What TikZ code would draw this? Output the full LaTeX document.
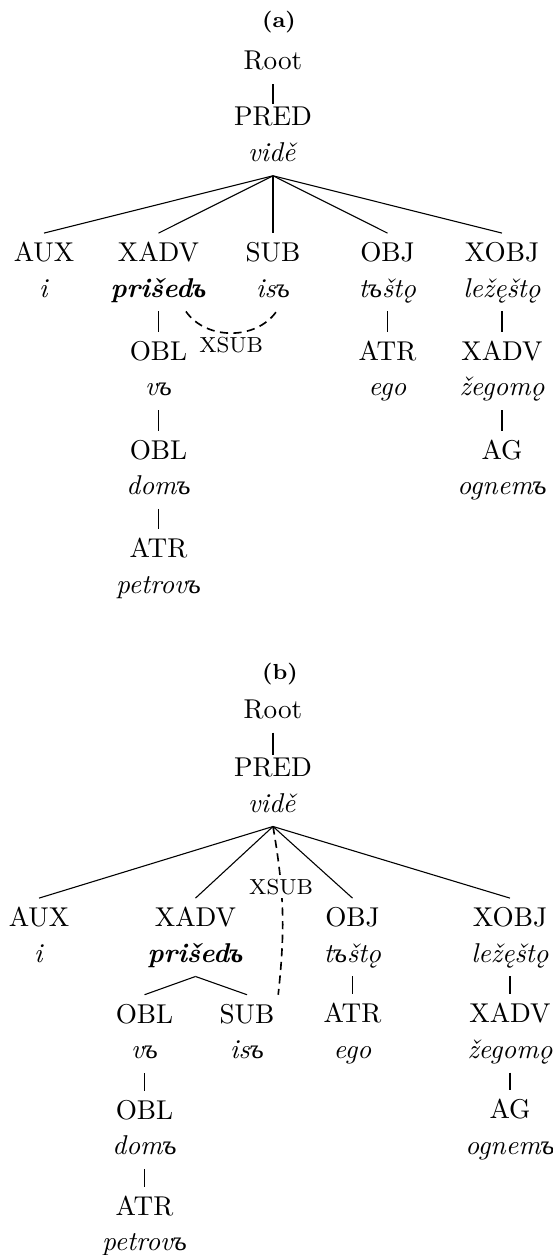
\documentclass[tikz,border=0pt]{standalone}
\usepackage{fontspec}
\newfontfamily\cyr{Liberation Serif}
\usetikzlibrary{positioning}
\newcommand{\yer}{{\cyr ъ}}
\newcommand{\tok}[2]{\strut #1\\\strut\textit{#2}}
\begin{document}
\begin{tikzpicture}[x=0.3676pt, y=0.3676pt, every node/.style={font=\fontsize{10}{13}\selectfont}]
    \tikzstyle{word} = [align=center, inner sep=1.2pt]
    \tikzstyle{caption} = [font=\footnotesize\bfseries, anchor=base]
    \tikzstyle{rel} = [font=\footnotesize, inner sep=1pt]
    \tikzstyle{secondary} = [semithick, dash pattern=on 3pt off 2pt]
    \useasboundingbox (0,0) rectangle (552,-1255);

    % tree (a): XSUB as a secondary arc
    \node (capa) [caption] at (279,-28) {(a)};
    \node (roota) [word, anchor=base] at (273,-70) {\strut Root};
    \node (preda) [word] at (273,-136.6) {\tok{PRED}{vidě}};
    \node (auxa) [word] at (44,-272.3) {\tok{AUX}{i}};
    \node (xadva) [word] at (158.5,-272.3) {\tok{XADV}{\textbf{prišed\yer}}};
    \node (suba) [word] at (273,-272.3) {\tok{SUB}{is\yer}};
    \node (obja) [word] at (387.5,-272.3) {\tok{OBJ}{t\yer štǫ}};
    \node (xobja) [word] at (502,-272.3) {\tok{XOBJ}{ležęštǫ}};
    \begin{scope}[node distance=36.3pt, on grid]
    \node (obla) [word, below=of xadva] {\tok{OBL}{v\yer}};
    \node (oblaa) [word, below=of obla] {\tok{OBL}{dom\yer}};
    \node (atra) [word, below=of oblaa] {\tok{ATR}{petrov\yer}};
    \node (atrobja) [word, below=of obja] {\tok{ATR}{ego}};
    \node (xadvaa) [word, below=of xobja] {\tok{XADV}{žegomǫ}};
    \node (aga) [word, below=of xadvaa] {\tok{AG}{ognem\yer}};
    \end{scope}

    \draw [shorten >=-2.5pt] (roota) -- (preda);
    \draw (preda.south) -- (auxa.north);
    \draw (preda.south) -- (xadva.north);
    \draw (preda.south) -- (suba.north);
    \draw (preda.south) -- (obja.north);
    \draw (preda.south) -- (xobja.north);
    \draw (xadva) -- (obla);
    \draw (obla) -- (oblaa);
    \draw (oblaa) -- (atra);
    \draw (obja) -- (atrobja);
    \draw (xobja) -- (xadvaa);
    \draw (xadvaa) -- (aga);
    \draw [secondary] (xadva.-55) to [bend right=55] node [rel, below] {XSUB} (suba.-85);

    % tree (b): XSUB as a dashed edge from the predicate
    \node (capb) [caption] at (280,-679.6) {(b)};
    \node (rootb) [word, anchor=base] at (273,-718.3) {\strut Root};
    \node (predb) [word] at (273,-787.3) {\tok{PRED}{vidě}};
    \node (auxb) [word] at (39,-937.3) {\tok{AUX}{i}};
    \node (xadvb) [word] at (195.5,-937.3) {\tok{XADV}{\textbf{prišed\yer}}};
    \node (objb) [word] at (352.5,-937.3) {\tok{OBJ}{t\yer štǫ}};
    \node (xobjb) [word] at (510,-937.3) {\tok{XOBJ}{ležęštǫ}};
    \node (oblb) [word] at (144.5,-1033.9) {\tok{OBL}{v\yer}};
    \node (subb) [word] at (247,-1033.9) {\tok{SUB}{is\yer}};
    \begin{scope}[node distance=35.3pt, on grid]
    \node (oblbb) [word, below=of oblb] {\tok{OBL}{dom\yer}};
    \node (atrb) [word, below=of oblbb] {\tok{ATR}{petrov\yer}};
    \node (atrobjb) [word, below=of objb] {\tok{ATR}{ego}};
    \node (xadvbb) [word, below=of xobjb] {\tok{XADV}{žegomǫ}};
    \node (agb) [word, below=of xadvbb] {\tok{AG}{ognem\yer}};
    \end{scope}

    \draw [shorten >=-2.5pt] (rootb) -- (predb);
    \draw (predb.south) -- (auxb.north);
    \draw (predb.south) -- (xadvb.north);
    \draw (predb.south) -- (objb.north);
    \draw (predb.south) -- (xobjb.north);
    \draw (xadvb.south) -- (oblb.north);
    \draw (xadvb.south) -- (subb.north);
    \draw (oblb) -- (oblbb);
    \draw (oblbb) -- (atrb);
    \draw (objb) -- (atrobjb);
    \draw (xobjb) -- (xadvbb);
    \draw (xadvbb) -- (agb);
    \draw [secondary] (predb.south) to [bend left=8] node [rel, fill=white, pos=0.35] {XSUB} (subb.north east);
\end{tikzpicture}
\end{document}
